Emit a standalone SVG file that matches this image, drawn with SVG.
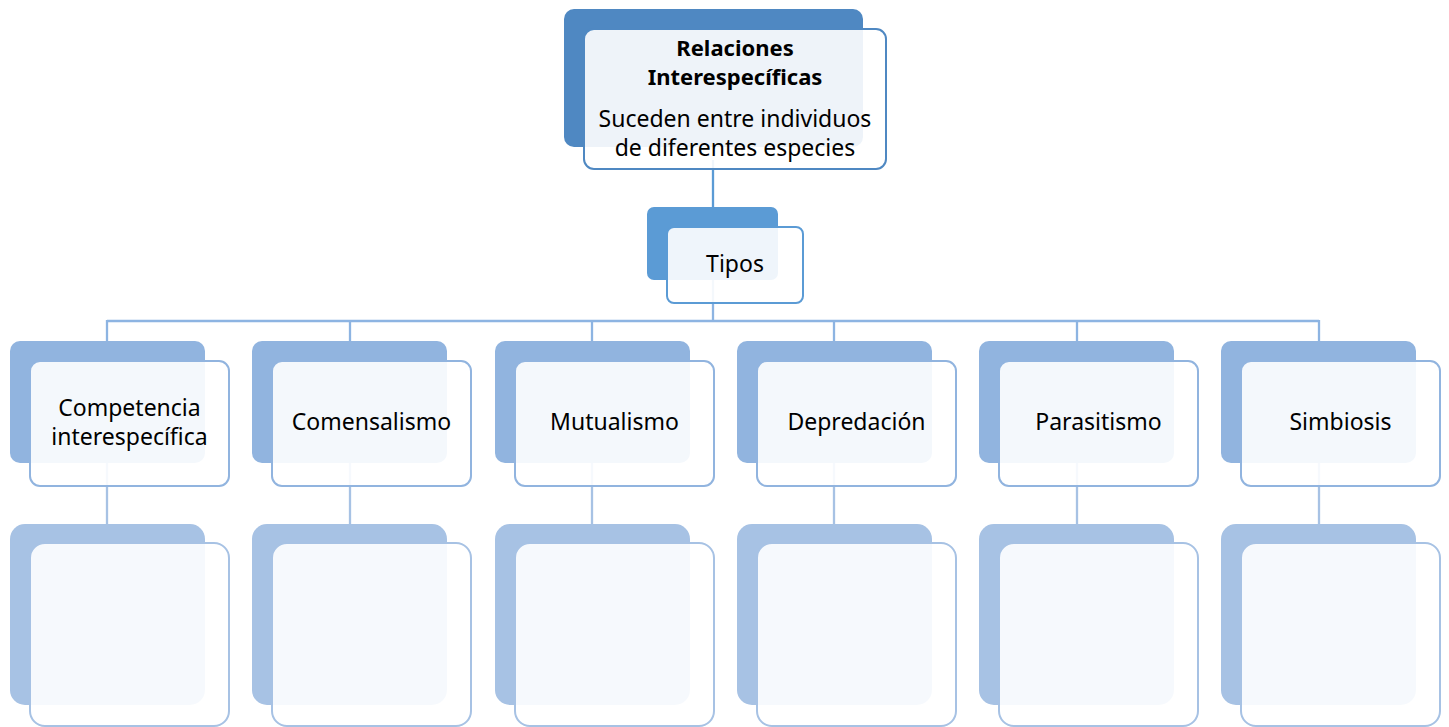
<svg xmlns="http://www.w3.org/2000/svg" width="1449" height="727" viewBox="0 0 1449 727">
<style>
  text { font-family: "Noto Sans", "Open Sans", "Liberation Sans", sans-serif; font-size: 23px; fill: #000; text-anchor: middle; }
  .b { font-weight: bold; font-size: 22px; }
  .front { fill: #fff; fill-opacity: 0.9; stroke-width: 2; }
  .c0 { stroke: #5B9BD5; stroke-width: 2.3; fill: none; }
  .c1 { stroke: #8DB4E2; stroke-width: 2.3; fill: none; }
  .c2 { stroke: #A7C2E4; stroke-width: 2.3; fill: none; }
  .top-back { fill: #4F88C2; } .top-front { stroke: #4F88C2; }
  .tip-back { fill: #5B9BD5; } .tip-front { stroke: #5B9BD5; }
  .l2-back { fill: #91B4DF; } .l2-front { stroke: #91B4DF; }
  .l3-back { fill: #A7C2E4; } .l3-front { stroke: #A7C2E4; }
</style>
<rect width="1449" height="727" fill="#fff"/>
<g id="connectors">
  <line class="c0" x1="713" y1="160" x2="713" y2="240"/>
  <line class="c1" x1="713" y1="260" x2="713" y2="321"/>
  <line class="c1" x1="107" y1="321" x2="1319" y2="321"/>
  <line class="c1" x1="107" y1="320" x2="107" y2="380"/>
  <line class="c1" x1="350" y1="320" x2="350" y2="380"/>
  <line class="c1" x1="592" y1="320" x2="592" y2="380"/>
  <line class="c1" x1="834" y1="320" x2="834" y2="380"/>
  <line class="c1" x1="1077" y1="320" x2="1077" y2="380"/>
  <line class="c1" x1="1319" y1="320" x2="1319" y2="380"/>
  <line class="c2" x1="107" y1="420" x2="107" y2="540"/>
  <line class="c2" x1="350" y1="420" x2="350" y2="540"/>
  <line class="c2" x1="592" y1="420" x2="592" y2="540"/>
  <line class="c2" x1="834" y1="420" x2="834" y2="540"/>
  <line class="c2" x1="1077" y1="420" x2="1077" y2="540"/>
  <line class="c2" x1="1319" y1="420" x2="1319" y2="540"/>
</g>
<g id="node-relaciones">
  <rect class="top-back" x="564" y="9" width="299" height="138" rx="10"/>
  <rect class="front top-front" x="584" y="29" width="302" height="140" rx="10"/>
  <text class="b" x="735" y="56">Relaciones</text>
  <text class="b" x="735" y="85">Interespecíficas</text>
  <text x="735" y="127">Suceden entre individuos</text>
  <text x="735" y="156">de diferentes especies</text>
</g>
<g id="node-tipos">
  <rect class="tip-back" x="647" y="207" width="131" height="73" rx="7"/>
  <rect class="front tip-front" x="667" y="227" width="136" height="76" rx="7"/>
  <text x="735" y="272">Tipos</text>
</g>
<g id="node-competencia">
  <rect class="l2-back" x="10" y="341" width="195" height="122" rx="10"/>
  <rect class="front l2-front" x="30" y="361" width="199" height="125" rx="10"/>
  <text x="129.5" y="416">Competencia</text>
  <text x="129.5" y="445">interespecífica</text>
</g>
<g id="node-comensalismo">
  <rect class="l2-back" x="252" y="341" width="195" height="122" rx="10"/>
  <rect class="front l2-front" x="272" y="361" width="199" height="125" rx="10"/>
  <text x="371.5" y="430">Comensalismo</text>
</g>
<g id="node-mutualismo">
  <rect class="l2-back" x="495" y="341" width="195" height="122" rx="10"/>
  <rect class="front l2-front" x="515" y="361" width="199" height="125" rx="10"/>
  <text x="614.5" y="430">Mutualismo</text>
</g>
<g id="node-depredacion">
  <rect class="l2-back" x="737" y="341" width="195" height="122" rx="10"/>
  <rect class="front l2-front" x="757" y="361" width="199" height="125" rx="10"/>
  <text x="856.5" y="430">Depredación</text>
</g>
<g id="node-parasitismo">
  <rect class="l2-back" x="979" y="341" width="195" height="122" rx="10"/>
  <rect class="front l2-front" x="999" y="361" width="199" height="125" rx="10"/>
  <text x="1098.5" y="430">Parasitismo</text>
</g>
<g id="node-simbiosis">
  <rect class="l2-back" x="1221" y="341" width="195" height="122" rx="10"/>
  <rect class="front l2-front" x="1241" y="361" width="199" height="125" rx="10"/>
  <text x="1340.5" y="430">Simbiosis</text>
</g>
<g id="node-competencia-detail">
  <rect class="l3-back" x="10" y="524" width="195" height="181" rx="15"/>
  <rect class="front l3-front" x="30" y="543" width="199" height="183" rx="15"/>
</g>
<g id="node-comensalismo-detail">
  <rect class="l3-back" x="252" y="524" width="195" height="181" rx="15"/>
  <rect class="front l3-front" x="272" y="543" width="199" height="183" rx="15"/>
</g>
<g id="node-mutualismo-detail">
  <rect class="l3-back" x="495" y="524" width="195" height="181" rx="15"/>
  <rect class="front l3-front" x="515" y="543" width="199" height="183" rx="15"/>
</g>
<g id="node-depredacion-detail">
  <rect class="l3-back" x="737" y="524" width="195" height="181" rx="15"/>
  <rect class="front l3-front" x="757" y="543" width="199" height="183" rx="15"/>
</g>
<g id="node-parasitismo-detail">
  <rect class="l3-back" x="979" y="524" width="195" height="181" rx="15"/>
  <rect class="front l3-front" x="999" y="543" width="199" height="183" rx="15"/>
</g>
<g id="node-simbiosis-detail">
  <rect class="l3-back" x="1221" y="524" width="195" height="181" rx="15"/>
  <rect class="front l3-front" x="1241" y="543" width="199" height="183" rx="15"/>
</g>
</svg>
